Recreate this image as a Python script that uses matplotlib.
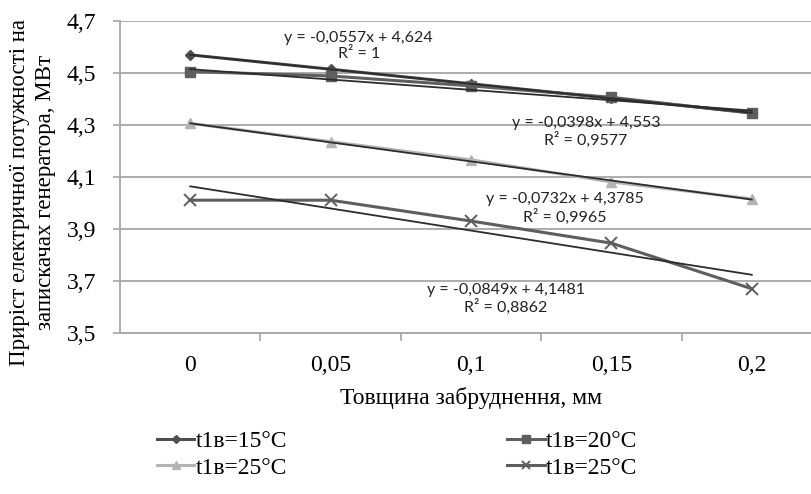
import numpy as np
import matplotlib
matplotlib.use("Agg")
import matplotlib.pyplot as plt

# дані
thickness = ["0", "0,05", "0,1", "0,15", "0,2"]
p15 = [4.568, 4.513, 4.457, 4.401, 4.346]
p20 = [4.504, 4.487, 4.449, 4.405, 4.344]
p25 = [4.305, 4.235, 4.165, 4.080, 4.015]
p25b = [4.010, 4.010, 3.930, 3.845, 3.670]
labels = ["t1в=15°C", "t1в=20°C", "t1в=25°C", "t1в=25°C"]

# лінії тренду (з підписів Excel), x = 1..5
slopes = [-0.0557, -0.0398, -0.0732, -0.0849]
intercepts = [4.624, 4.553, 4.3785, 4.1481]
r2 = ["1", "0,9577", "0,9965", "0,8862"]
eq_text = ["-0,0557x + 4,624", "-0,0398x + 4,553", "-0,0732x + 4,3785", "-0,0849x + 4,1481"]

serif = "Liberation Serif"
fig = plt.figure(figsize=(8.12, 4.94), dpi=100)
ax = fig.add_axes([0.1478, 0.3259, 0.8645, 0.6326])

x = np.arange(len(thickness))
grid_c = "#a6a6a6"

h1, = ax.plot(x, p15, color="#4e4e4e", lw=2.2, marker="D", ms=5, label=labels[0], zorder=3)
h2, = ax.plot(x, p20, color="#5e5e5e", lw=2.2, marker="s", ms=7, label=labels[1], zorder=3)
h3, = ax.plot(x, p25, color="#b4b4b4", lw=2.2, marker="^", ms=7, label=labels[2], zorder=3)
h4, = ax.plot(x, p25b, color="#5e5e5e", lw=2.2, marker="x", ms=8, mew=1.4, label=labels[3], zorder=3)

# тренди
for k in range(4):
    ax.plot(x, intercepts[k] + slopes[k] * (x + 1), color="#2c2c2c", lw=1.3, zorder=4)

# підписи рівнянь
ann_pos = [(1.20, 4.603), (2.82, 4.272), (2.67, 3.978), (2.25, 3.630)]
for k in range(4):
    ax.text(ann_pos[k][0], ann_pos[k][1], "y = " + eq_text[k] + "\nR² = " + r2[k],
            ha="center", va="center", fontsize=11.5, family="Lato", color="#222222",
            linespacing=1.15, zorder=5)

ax.set_xlim(-0.5, 4.5)
ax.set_ylim(3.5, 4.7)
ax.set_yticks(np.arange(3.5, 4.71, 0.2))
ax.set_yticklabels(["3,5", "3,7", "3,9", "4,1", "4,3", "4,5", "4,7"], fontsize=17, family=serif)
ax.set_xticks(x)
ax.set_xticklabels(thickness, fontsize=17, family=serif)
ax.set_xticks(np.arange(0.5, 4.5, 1), minor=True)
ax.tick_params(axis="x", which="major", length=0, pad=16)
ax.tick_params(axis="x", which="minor", length=6, color=grid_c, width=1.2)
ax.tick_params(axis="y", length=5, color=grid_c, width=1.2, pad=12)
ax.grid(axis="y", color=grid_c, lw=1.3)
ax.set_axisbelow(True)
for s in ["top", "right"]:
    ax.spines[s].set_visible(False)
for s in ["left", "bottom"]:
    ax.spines[s].set_color(grid_c)
    ax.spines[s].set_linewidth(1.3)

ax.set_xlabel("Товщина забруднення, мм", fontsize=17, family=serif, labelpad=8)
fig.text(0.040, 0.61, "Приріст електричної потужності на\nзапискачах генератора, МВт",
         rotation=90, ha="center", va="center", fontsize=16.5, family=serif,
         multialignment="center", linespacing=1.35)

leg = fig.legend([h1, h3, h2, h4], [labels[0], labels[2], labels[1], labels[3]],
                 ncol=2, loc="center left", bbox_to_anchor=(0.193, 0.080),
                 frameon=False, prop={"family": serif, "size": 17},
                 handlelength=1.6, handletextpad=0.05, columnspacing=9.3,
                 labelspacing=0.22, borderpad=0, borderaxespad=0, markerscale=0.8)

fig.savefig("out.png", dpi=100)
